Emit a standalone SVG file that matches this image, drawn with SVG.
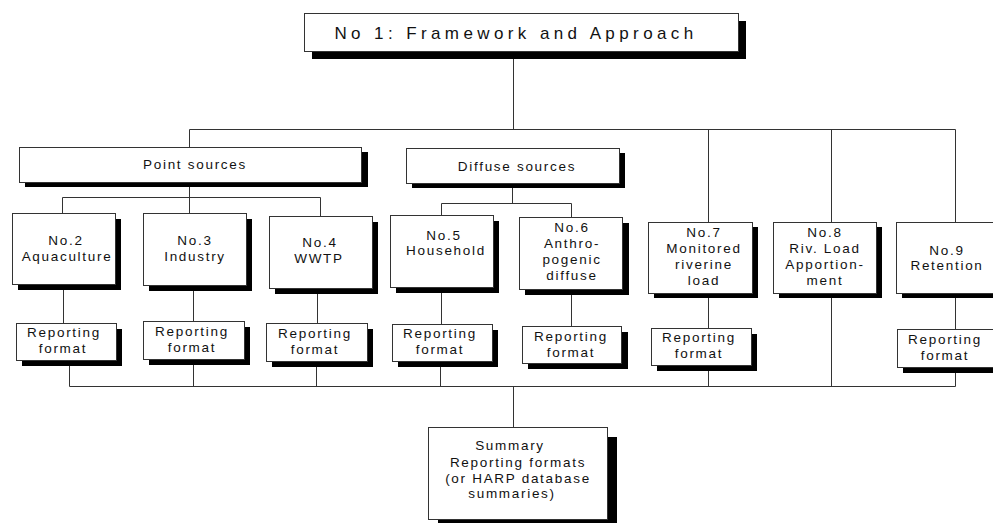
<svg xmlns="http://www.w3.org/2000/svg" width="993" height="523" viewBox="0 0 993 523">
<style>
.box{fill:#fff;stroke:#333;stroke-width:1}
.sh{fill:#000}
.ln{fill:none;stroke:#333;stroke-width:1}
text{font-family:"Liberation Sans",Arial,sans-serif;font-size:13.5px;letter-spacing:1.7px;text-anchor:middle;fill:#111}
.title{font-size:17px;letter-spacing:4.4px}
</style>
<rect width="993" height="523" fill="#fff"/>
<g id="connectors" class="ln">
<path d="M513.5 58V129.5M189.5 129.5H955.5M189.5 129.5V147M708.5 129.5V222M831.5 129.5V222M955.5 129.5V222"/>
<path d="M189.5 187V197.5M62.5 197.5H320.5M62.5 197.5V213M189.5 197.5V213M320.5 197.5V216"/>
<path d="M512.5 188V203.5M441.5 203.5H571.5M441.5 203.5V215M571.5 203.5V217"/>
<path d="M63.5 290V323M193.5 291V321M317.5 294V323M441.5 293V324M571.5 295V326M708.5 298V328M955.5 298V329"/>
<path d="M69.5 366V386.5M193.5 365V386.5M316.5 367V386.5M440.5 367V386.5M708.5 371V386.5M831.5 298V386.5M955.5 373V386.5M69.5 386.5H955.5M513.5 386.5V427"/>
</g>
<g id="n1"><rect class="sh" x="312" y="21" width="434" height="38"/><rect class="box" x="304.5" y="13.5" width="434" height="38"/><text class="title" x="516" y="39">No 1: Framework and Approach</text></g>
<g id="point"><rect class="sh" x="25" y="152" width="343" height="35"/><rect class="box" x="19.5" y="147.5" width="342" height="35"/><text x="195" y="169">Point sources</text></g>
<g id="diffuse"><rect class="sh" x="412" y="153" width="213" height="35"/><rect class="box" x="406.5" y="148.5" width="213" height="35"/><text x="517" y="171">Diffuse sources</text></g>
<g id="n2"><rect class="sh" x="18" y="219" width="103" height="71"/><rect class="box" x="12.5" y="213.5" width="103" height="71"/><text x="66" y="245">No.2</text><text x="67" y="261">Aquaculture</text></g>
<g id="n3"><rect class="sh" x="149" y="219" width="103" height="72"/><rect class="box" x="143.5" y="213.5" width="103" height="72"/><text x="195" y="245">No.3</text><text x="195" y="261">Industry</text></g>
<g id="n4"><rect class="sh" x="275" y="222" width="103" height="72"/><rect class="box" x="269.5" y="216.5" width="103" height="72"/><text x="320" y="247">No.4</text><text x="319" y="263">WWTP</text></g>
<g id="n5"><rect class="sh" x="396" y="221" width="103" height="72"/><rect class="box" x="390.5" y="215.5" width="103" height="72"/><text x="444" y="240">No.5</text><text x="446" y="255">Household</text></g>
<g id="n6"><rect class="sh" x="525" y="223" width="104" height="72"/><rect class="box" x="519.5" y="217.5" width="103" height="72"/><text x="572" y="232">No.6</text><text x="572" y="248">Anthro-</text><text x="572" y="264">pogenic</text><text x="572" y="280">diffuse</text></g>
<g id="n7"><rect class="sh" x="654" y="227" width="104" height="71"/><rect class="box" x="648.5" y="222.5" width="104" height="71"/><text x="704" y="237">No.7</text><text x="704" y="253">Monitored</text><text x="704" y="269">riverine</text><text x="704" y="285">load</text></g>
<g id="n8"><rect class="sh" x="779" y="227" width="103" height="71"/><rect class="box" x="773.5" y="222.5" width="103" height="71"/><text x="825" y="237">No.8</text><text x="825" y="253">Riv. Load</text><text x="825" y="269">Apportion-</text><text x="825" y="285">ment</text></g>
<g id="n9"><rect class="sh" x="902" y="227" width="110" height="71"/><rect class="box" x="896.5" y="222.5" width="110" height="71"/><text x="947" y="255">No.9</text><text x="947" y="270">Retention</text></g>
<g id="r1"><rect class="sh" x="22" y="329" width="100" height="37"/><rect class="box" x="16.5" y="323.5" width="100" height="37"/><text x="64" y="337">Reporting</text><text x="63" y="353">format</text></g>
<g id="r2"><rect class="sh" x="149" y="327" width="101" height="38"/><rect class="box" x="143.5" y="321.5" width="101" height="38"/><text x="192" y="336">Reporting</text><text x="192" y="352">format</text></g>
<g id="r3"><rect class="sh" x="272" y="329" width="101" height="38"/><rect class="box" x="266.5" y="323.5" width="101" height="38"/><text x="315" y="338">Reporting</text><text x="315" y="354">format</text></g>
<g id="r4"><rect class="sh" x="398" y="330" width="100" height="37"/><rect class="box" x="392.5" y="324.5" width="100" height="37"/><text x="440" y="338">Reporting</text><text x="440" y="354">format</text></g>
<g id="r5"><rect class="sh" x="528" y="332" width="100" height="37"/><rect class="box" x="522.5" y="326.5" width="99" height="37"/><text x="571" y="341">Reporting</text><text x="571" y="357">format</text></g>
<g id="r6"><rect class="sh" x="657" y="334" width="100" height="37"/><rect class="box" x="651.5" y="328.5" width="100" height="37"/><text x="699" y="342">Reporting</text><text x="699" y="358">format</text></g>
<g id="r7"><rect class="sh" x="903" y="335" width="101" height="38"/><rect class="box" x="897.5" y="329.5" width="101" height="38"/><text x="945" y="344">Reporting</text><text x="945" y="360">format</text></g>
<g id="summary"><rect class="sh" x="438" y="437" width="179" height="92"/><rect class="box" x="428.5" y="427.5" width="179" height="92"/><text x="510" y="450">Summary</text><text x="518" y="467">Reporting formats</text><text x="518" y="483">(or HARP database</text><text x="512" y="498">summaries)</text></g>
</svg>
